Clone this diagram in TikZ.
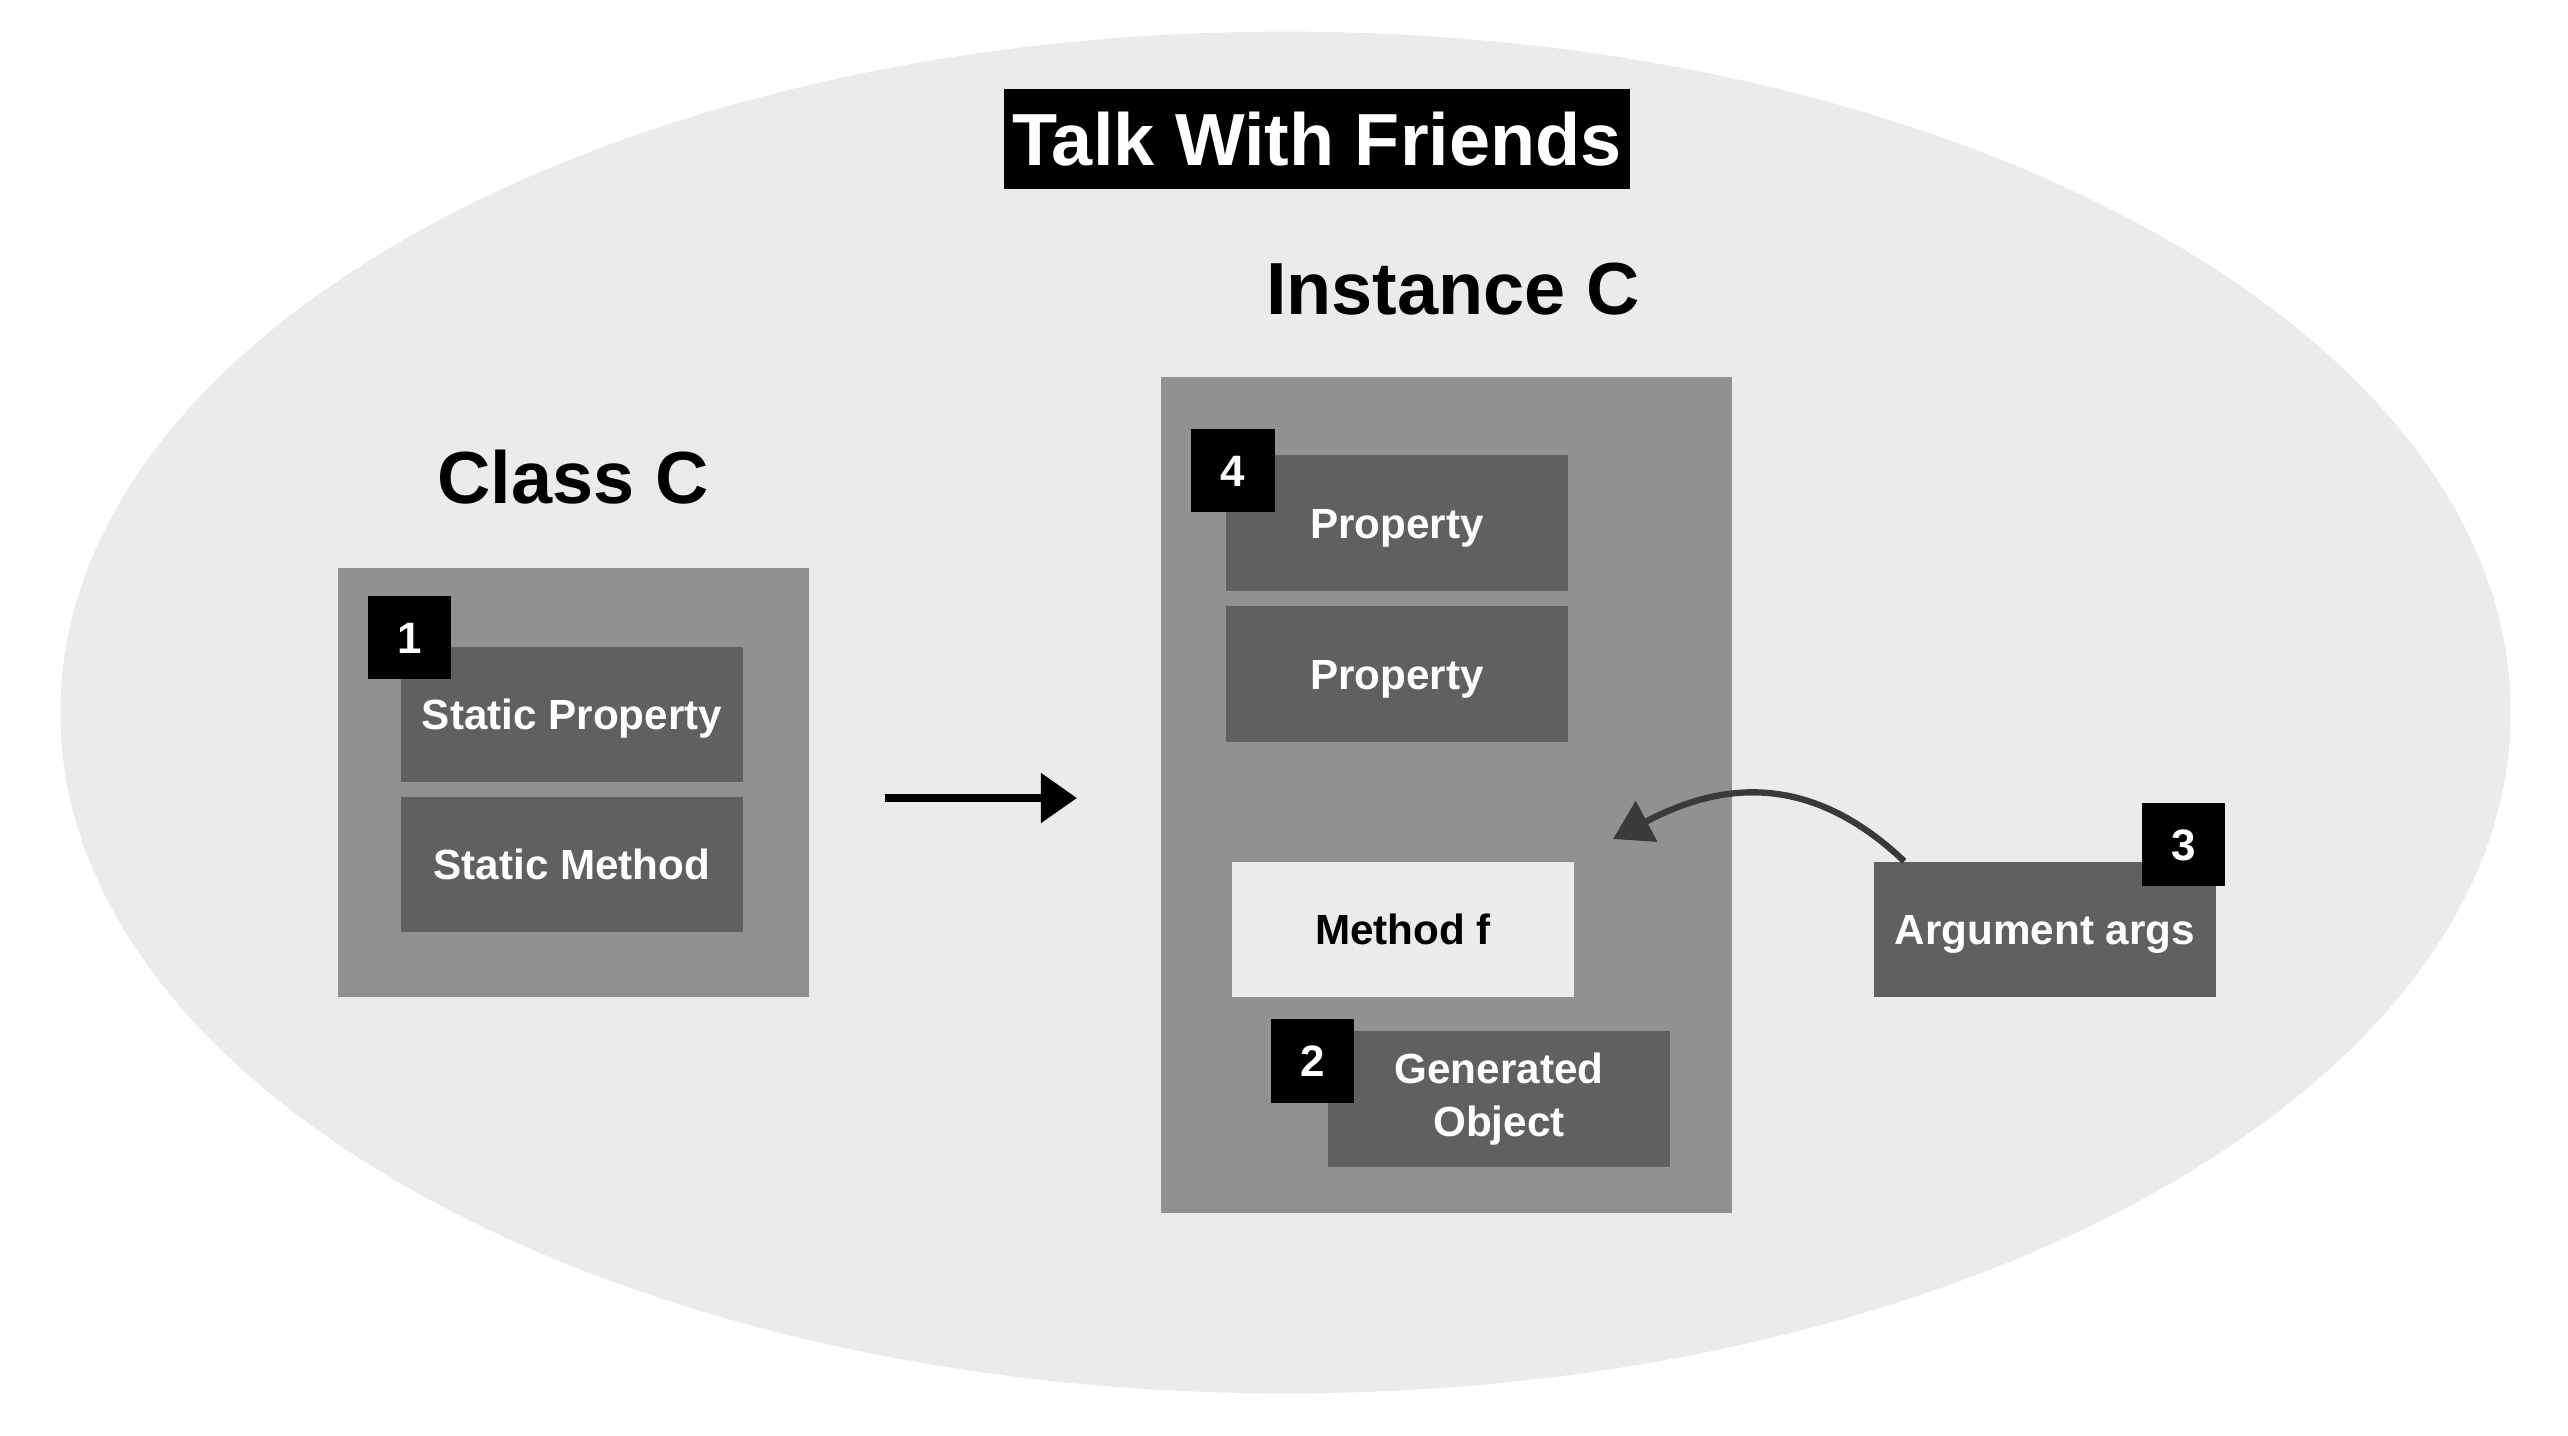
\documentclass[tikz,border=0pt]{standalone}
\usepackage{fontspec}
\setmainfont{Liberation Sans}
\usetikzlibrary{arrows.meta,positioning}
\definecolor{bubble}{HTML}{EBEBEB}
\definecolor{outerbox}{HTML}{919191}
\definecolor{innerbox}{HTML}{606060}
\definecolor{curvearrow}{HTML}{3A3A3A}
\tikzset{
        boxbase/.style={inner sep=0pt, minimum width=3.42cm, minimum height=1.35cm, text=white, fill=innerbox, font=\fontsize{12}{15}\selectfont\bfseries},
        oneline/.style={text height=8.6pt, text depth=0pt},
        member/.style={boxbase, oneline},
        method/.style={member, fill=bubble, text=black},
        container/.style={fill=outerbox, inner sep=0pt},
        badge/.style={fill=black, text=white, inner sep=0pt, minimum size=0.83cm, text height=8.9pt, text depth=0pt, font=\fontsize{12.5}{15}\selectfont\bfseries},
        heading/.style={inner sep=0pt, text height=15.1pt, text depth=0pt, font=\fontsize{21}{25}\selectfont\bfseries},
        sketchline/.style={line width=2.3pt, -{Triangle[length=3.6mm, width=4.8mm]}},
        sketchcurve/.style={draw=curvearrow, line width=1.8pt, -{Triangle[length=3.8mm, width=4.5mm]}}
          }
\begin{document}
\begin{tikzpicture}[x=0.01cm, y=-0.01cm]
        \useasboundingbox (0,0) rectangle (2568,1436);
        \fill[bubble] (1285.5,712.5) ellipse [x radius=12.245cm, y radius=6.805cm];
        % title and headings
        \node[heading, fill=black, text=white, minimum width=6.26cm, minimum height=1cm] (title) at (1317,139) {Talk With Friends};
        \node[heading] (instlabel) at (1453,288) {Instance C};
        \node[heading] (classlabel) at (573,477) {Class C};
        % class C
        \node[container, minimum width=4.70cm, minimum height=4.29cm] (classbox) at (573.5,782.5) {};
        \node[member] (sprop) at (572,714.5) {Static Property};
        \node[member] (smeth) at (572,864.5) {Static Method};
        \node[badge] (b1) at (409.5,637.5) {1};
        % instance C
        \node[container, minimum width=5.71cm, minimum height=8.36cm] (instbox) at (1446.5,795) {};
        \node[member] (prop1) at (1397,523) {Property};
        \node[member] (prop2) at (1397,674) {Property};
        \node[method] (methf) at (1403,929.5) {Method f};
        \node[boxbase, align=center] (genobj) at (1499,1099) {Generated\\Object};
        \node[badge] (b4) at (1233,470.5) {4};
        \node[badge] (b2) at (1312.5,1061) {2};
        % argument
        \node[member] (argbox) at (2045,929.5) {Argument args};
        \node[badge] (b3) at (2183.5,844.5) {3};
        % arrows
        \coordinate (arrowfrom) at (885,798);
        \coordinate (arrowto) at (1077,798);
        \coordinate (argtip) at (1613,839);
        \draw[sketchline] (arrowfrom) -- (arrowto);
        \draw[sketchcurve] ([xshift=0.31cm]argbox.north west) .. controls (1800,762) and (1706,790) .. (argtip);
\end{tikzpicture}
\end{document}
